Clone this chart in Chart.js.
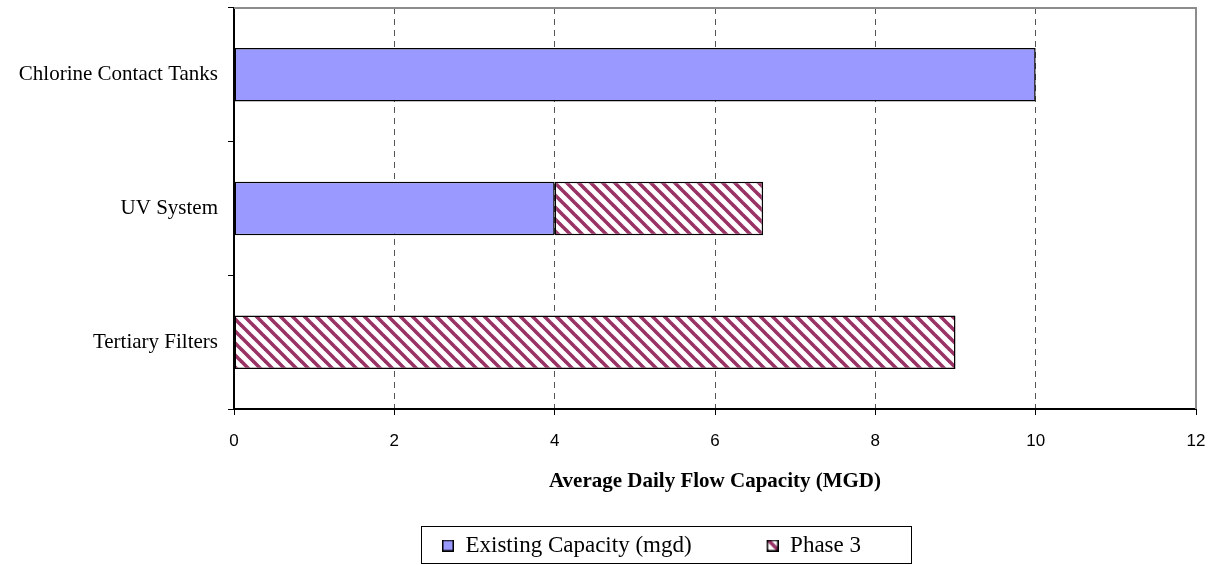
<!DOCTYPE html>
<html>
<head>
<meta charset="utf-8">
<script src="https://cdn.jsdelivr.net/npm/chart.js@4"></script>
<style>
  html, body { margin: 0; padding: 0; background: #fff; }
  #wrap { width: 1217px; height: 565px; }
</style>
</head>
<body>
<div id="wrap"><canvas id="capChart"></canvas></div>
<script>
/* ── DATA ───────────────────────────────────── */
const categories = ['Chlorine Contact Tanks', 'UV System', 'Tertiary Filters'];
const existingCapacity = [10, 4, null];
const phase3 = [null, 2.6, 9];
const xMin = 0, xMax = 12, xStep = 2;
const seriesNames = ['Existing Capacity (mgd)', 'Phase 3'];

/* ── HATCH PATTERN ──────────────────────────── */
function hatchCanvas() {
    const c = document.createElement('canvas');
    c.width = 12; c.height = 12;
    const g = c.getContext('2d');
    g.fillStyle = '#fff';
    g.fillRect(0, 0, 12, 12);
    g.strokeStyle = '#993366';
    g.lineWidth = 3.6;
    for (let k = -1; k <= 1; k++) {
        g.beginPath();
        g.moveTo(k * 12 - 2, -2);
        g.lineTo(k * 12 + 14, 14);
        g.stroke();
    }
    return c;
}
const hatchTile = hatchCanvas();
const hatchFill = document.createElement('canvas').getContext('2d').createPattern(hatchTile, 'repeat');

/* ── LEGEND MARKERS (square at right end, blank lead-in = gap between items) ── */
const legendLead = 71, legendSq = 12;
function legendMarker(fill) {
    const c = document.createElement('canvas');
    c.width = legendLead + legendSq; c.height = legendSq;
    const g = c.getContext('2d');
    g.fillStyle = fill === 'hatch' ? g.createPattern(hatchTile, 'repeat') : fill;
    g.fillRect(legendLead, 0, legendSq, legendSq);
    g.strokeStyle = '#000';
    g.lineWidth = 1.5;
    g.strokeRect(legendLead + 0.75, 0.75, legendSq - 1.5, legendSq - 1.5);
    return c;
}

/* ── FRAME + LEGEND BOX ─────────────────────── */
const framePlugin = {
    id: 'frame',
    afterLayout(chart) {
        // let the long category labels run past the y scale box
        chart.scales.y.left = 0;
    },
    beforeDatasetsDraw(chart) {
        const { ctx, chartArea: a } = chart;
        ctx.save();
        ctx.strokeStyle = '#8c8c8c';
        ctx.lineWidth = 2;
        ctx.beginPath();
        ctx.moveTo(a.left, a.top);
        ctx.lineTo(a.right, a.top);
        ctx.lineTo(a.right, a.bottom);
        ctx.stroke();
        ctx.restore();
    },
    afterDraw(chart) {
        const boxes = chart.legend.legendHitBoxes;
        if (!boxes || !boxes.length) return;
        const { ctx } = chart;
        const first = boxes[0], last = boxes[boxes.length - 1];
        const left = first.left + legendLead - 21;
        const right = last.left + last.width + 50;
        const top = first.top - 8;
        ctx.save();
        ctx.strokeStyle = '#000';
        ctx.lineWidth = 1;
        ctx.strokeRect(Math.round(left) + 0.5, Math.round(top) + 0.5, Math.round(right - left), 37);
        ctx.restore();
    }
};

/* ── CHART ──────────────────────────────────── */
const serif = "'Liberation Serif', 'Times New Roman', serif";
new Chart(document.getElementById('capChart'), {
    type: 'bar',
    data: {
        labels: categories,
        datasets: [
            {
                label: seriesNames[0],
                data: existingCapacity,
                backgroundColor: '#9999ff',
                borderColor: '#000',
                borderWidth: 1.5,
                borderSkipped: false,
                pointStyle: legendMarker('#9999ff'),
            },
            {
                label: seriesNames[1],
                data: phase3,
                backgroundColor: hatchFill,
                borderColor: '#000',
                borderWidth: 1.5,
                borderSkipped: false,
                pointStyle: legendMarker('hatch'),
            }
        ]
    },
    options: {
        indexAxis: 'y',
        responsive: true, maintainAspectRatio: false,
        animation: false,
        categoryPercentage: 1, barPercentage: 0.4,
        layout: { padding: { top: 8, right: 21, left: 36, bottom: 0 } },
        plugins: {
            tooltip: { enabled: false },
            legend: {
                position: 'bottom',
                maxHeight: 35,
                labels: {
                    color: '#000',
                    font: { family: serif, size: 23 },
                    usePointStyle: true,
                    pointStyleWidth: legendLead + legendSq,
                    boxHeight: legendSq,
                    padding: 4,
                }
            }
        },
        scales: {
            x: {
                stacked: true,
                min: xMin, max: xMax,
                afterFit: scale => {
                    scale.height = 121;
                    scale.paddingLeft = 0; scale.paddingRight = 0;
                },
                ticks: { stepSize: xStep, color: '#000', padding: 16,
                         font: { family: "'Liberation Sans', Arial, sans-serif", size: 17 } },
                grid: {
                    color: ctx => (ctx.tick && (ctx.tick.value === xMin || ctx.tick.value === xMax)) ? 'rgba(0,0,0,0)' : '#555',
                    tickColor: '#000', tickLength: 6, tickBorderDash: [],
                },
                border: { color: '#000', width: 2, dash: [6, 5] },
                title: {
                    display: true,
                    text: 'Average Daily Flow Capacity (MGD)',
                    color: '#000',
                    font: { family: serif, size: 21, weight: 'bold' },
                    padding: { top: 0, bottom: 36 }
                }
            },
            y: {
                stacked: true,
                afterFit: scale => {
                    scale.width = 198;
                    scale.paddingTop = 0; scale.paddingBottom = 0;
                },
                ticks: { color: '#000', padding: 10, font: { family: serif, size: 21 } },
                grid: { drawOnChartArea: false, offset: true, color: '#000', tickLength: 6 },
                border: { color: '#000', width: 2 }
            }
        }
    },
    plugins: [framePlugin]
});
</script>
</body>
</html>
